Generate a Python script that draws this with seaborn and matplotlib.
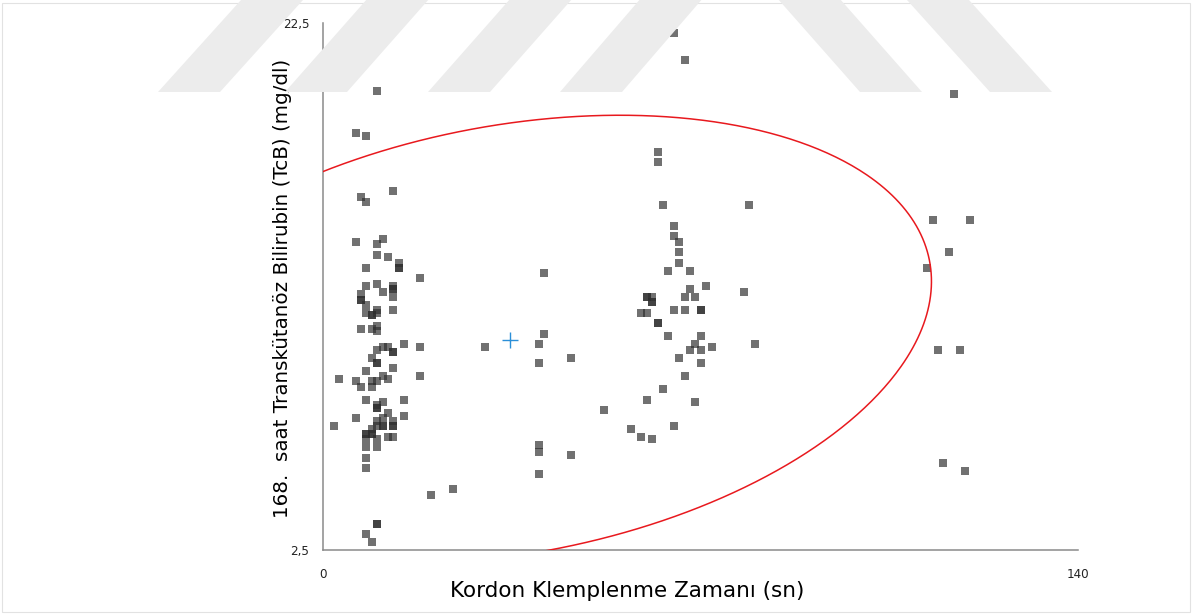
import numpy as np
import pandas as pd
import matplotlib
matplotlib.use("Agg")
import matplotlib.pyplot as plt
from matplotlib.patches import Polygon, Rectangle
import seaborn as sns

# Cord clamping time (s) and transcutaneous bilirubin at hour 168 (mg/dl)
early_time = [2, 3, 6, 6, 6, 6, 7, 7, 7, 7, 7, 7,
              8, 8, 8, 8, 8, 8, 8, 8, 8, 8, 8, 8, 8, 8, 8,
              9, 9, 9, 9, 9, 9, 9, 9, 9, 9,
              10, 10, 10, 10, 10, 10, 10, 10, 10, 10, 10, 10, 10, 10, 10, 10, 10, 10, 10, 10, 10,
              11, 11, 11, 11, 11, 11, 11, 11,
              12, 12, 12, 12, 12,
              13, 13, 13, 13, 13, 13, 13, 13, 13, 13, 13, 13, 13,
              14, 14, 14, 15, 15, 15, 18, 18, 18, 20, 24, 30]
early_tcb = [7.2, 9.0, 18.3, 14.2, 8.9, 7.5, 15.9, 12.2, 12.0, 12.0, 10.9, 8.7,
             18.2, 15.7, 13.2, 12.5, 11.8, 11.5, 9.3, 8.2, 6.9, 6.9, 6.7, 6.4, 6.0, 5.6, 3.1,
             11.4, 11.4, 10.9, 9.8, 8.9, 8.7, 7.1, 6.9, 6.9, 2.8,
             19.9, 14.1, 13.7, 12.6, 11.6, 11.5, 11.0, 10.8, 10.1, 9.6, 9.6, 8.9, 8.0, 7.9, 7.9, 7.4, 7.2, 6.7, 6.4, 3.5, 3.5,
             14.3, 12.3, 10.2, 9.1, 8.1, 7.5, 7.2, 7.2,
             13.6, 10.2, 9.0, 7.7, 6.8,
             16.1, 12.5, 12.4, 12.4, 12.1, 11.6, 10.0, 10.0, 9.4, 7.4, 7.2, 7.2, 6.8,
             13.4, 13.2, 13.2, 10.3, 8.2, 7.6, 12.8, 10.2, 9.1, 4.6, 4.8, 10.2]

mid_time = [40, 40, 40, 40, 40, 41, 41, 46, 46, 52, 57, 59, 59,
            60, 60, 60, 60, 61, 61, 61, 61, 62, 62, 62, 62, 63, 63, 64, 64,
            65, 65, 65, 65, 65, 66, 66, 66, 66, 67, 67, 67, 67, 68, 68, 68,
            69, 69, 69, 70, 70, 70, 70, 70, 71, 72, 78, 79, 80]
mid_tcb = [10.3, 9.6, 6.5, 6.2, 5.4, 13.0, 10.7, 9.8, 6.1, 7.8, 7.1, 11.5, 6.8,
           12.1, 12.1, 11.5, 8.2, 12.1, 11.9, 11.9, 6.7, 17.6, 17.2, 11.1, 11.1, 15.6, 8.6, 13.1, 10.6,
           22.1, 14.8, 14.4, 11.6, 7.2, 14.2, 13.8, 13.4, 9.8, 21.1, 12.1, 11.6, 9.1, 13.1, 12.4, 10.1,
           12.1, 10.3, 8.1, 11.6, 11.6, 10.6, 10.1, 9.6, 12.5, 10.2, 12.3, 15.6, 10.3]

late_time = [112, 113, 114, 115, 116, 117, 118, 119, 120]
late_tcb = [13.2, 15.0, 10.1, 5.8, 13.8, 19.8, 10.1, 5.5, 15.0]

x_ticks = [0, 20, 40, 60, 80, 100, 120, 140]
x_tick_labels = ["0", "", "", "", "", "", "", "140"]
y_ticks = [2.5, 5.0, 7.5, 10.0, 12.5, 15.0, 17.5, 20.0, 22.5]
y_tick_labels = ["2,5", "", "", "", "", "", "", "", "22,5"]

x_title = "Kordon Klemplenme Zamanı (sn)"
y_title = "168.  saat Transkütanöz Bilirubin (TcB) (mg/dl)"

df = pd.DataFrame({
    "time": early_time + mid_time + late_time,
    "tcb": early_tcb + mid_tcb + late_tcb,
})

sns.set_style("white")
plt.rcParams["font.family"] = ["DejaVu Sans"]

W, H = 1194, 614
fig = plt.figure(figsize=(W / 100, H / 100), dpi=100)
fig.patch.set_facecolor("white")

# light outer frame of the chart area
fig.patches.append(Rectangle((2 / W, 1 - 612 / H), 1188 / W, 609 / H,
                             transform=fig.transFigure, fill=False,
                             edgecolor="#e2e2e2", linewidth=0.8, zorder=0))

# watermark bars across the top
bar_w = 62
bars = [(158, 250), (285, 375), (428, 518), (560, 648), (860, 770), (990, 898)]
for xb, xt in bars:
    poly = [(xb, 92), (xb + bar_w, 92), (xt + bar_w, -10), (xt, -10)]
    poly = [(px / W, 1 - py / H) for px, py in poly]
    fig.patches.append(Polygon(poly, closed=True, transform=fig.transFigure,
                               facecolor="#ececec", edgecolor="none", zorder=0))

ax = fig.add_axes([323.3 / W, 1 - 550 / H, 755 / W, 527.3 / H])
ax.patch.set_alpha(0)

sns.scatterplot(data=df, x="time", y="tcb", ax=ax, marker="s", s=27,
                color="#2e2e2e", alpha=0.68, linewidth=0, zorder=3)

# centroid and 95% confidence ellipse of the observations
pts = df[["time", "tcb"]].to_numpy(dtype=float)
mu = pts.mean(axis=0)
cov = np.cov(pts, rowvar=False)
vals, vecs = np.linalg.eigh(cov)
k = np.sqrt(-2 * np.log(0.05))
t = np.linspace(0, 2 * np.pi, 600)
unit = np.vstack([np.cos(t), np.sin(t)])
ell = vecs @ (np.sqrt(vals)[:, None] * unit) * k + mu[:, None]
ax.plot(ell[0], ell[1], color="#e8191e", linewidth=1.1, zorder=4)
ax.plot([mu[0]], [mu[1]], marker="+", markersize=12, markeredgewidth=1.0,
        color="#2b8fd8", linestyle="none", zorder=5)

ax.set_xlim(0, 140)
ax.set_ylim(2.5, 22.5)
ax.set_xticks(x_ticks)
ax.set_xticklabels(x_tick_labels)
ax.set_yticks(y_ticks)
ax.set_yticklabels(y_tick_labels)

for side in ("top", "right"):
    ax.spines[side].set_visible(False)
for side in ("left", "bottom"):
    ax.spines[side].set_color("#8a8a8a")
    ax.spines[side].set_linewidth(1.1)

ax.tick_params(axis="both", direction="out", length=4, width=1.0,
               color="#8a8a8a", labelsize=9.5, labelcolor="#222222")
ax.tick_params(axis="y", pad=6)
ax.tick_params(axis="x", pad=9)
for lab in ax.get_xticklabels() + ax.get_yticklabels():
    lab.set_fontstretch("condensed")

ax.set_xlabel(x_title, fontsize=15.5, color="black")
ax.set_ylabel(y_title, fontsize=14.3, color="black")
ax.xaxis.label.set_va("center")
ax.yaxis.label.set_va("center")
ax.xaxis.set_label_coords((627.5 - 323.3) / 755, (550 - 591) / 527.3)
ax.yaxis.set_label_coords((283 - 323.3) / 755, (550 - 288) / 527.3)
ax.grid(False)

fig.savefig("out.png", dpi=100, facecolor="white")
